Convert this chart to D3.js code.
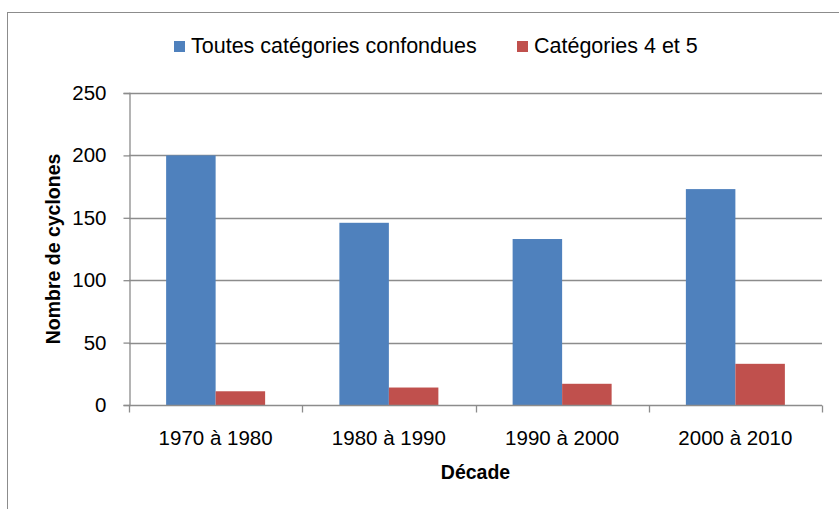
<!DOCTYPE html>
<html lang="fr">
<head>
    <meta charset="UTF-8">
    <title>Nombre de cyclones par décade</title>
    <script src="https://cdn.jsdelivr.net/npm/d3@7"></script>
    <style>
        body { margin: 0; background: #fff; }
        svg text { font-family: "Liberation Sans", Arial, sans-serif; fill: #000; }
    </style>
</head>
<body>
    <div id="chart"></div>
    <script>
        // ---- data ----
        const decades = ["1970 à 1980", "1980 à 1990", "1990 à 2000", "2000 à 2010"];
        const seriesNames = ["Toutes catégories confondues", "Catégories 4 et 5"];
        const toutes = [200, 146, 133, 173];
        const cat45 = [11, 14, 17, 33];
        const yTicks = [0, 50, 100, 150, 200, 250];
        const colors = ["#4F81BD", "#C0504D"];

        const width = 839, height = 509;
        const margin = { top: 93, right: 17, bottom: 104, left: 129 };

        const svg = d3.select("#chart").append("svg")
            .attr("width", width)
            .attr("height", height);

        // chart frame (cut off on the right and bottom like the source)
        svg.append("rect")
            .attr("x", 7.5).attr("y", 12.5)
            .attr("width", width).attr("height", height)
            .attr("fill", "none").attr("stroke", "#8c8c8c");

        const x0 = d3.scaleBand()
            .domain(decades)
            .range([margin.left, width - margin.right])
            .padding(0);

        const x1 = d3.scaleBand()
            .domain(seriesNames)
            .range([0, x0.bandwidth()])
            .paddingInner(0)
            .paddingOuter(0.75);

        const y = d3.scaleLinear()
            .domain([0, 250])
            .range([height - margin.bottom, margin.top]);

        // gridlines
        svg.append("g")
            .selectAll("line")
            .data(yTicks.filter(d => d > 0))
            .enter().append("line")
            .attr("x1", margin.left).attr("x2", width - margin.right)
            .attr("y1", d => Math.round(y(d)) + 0.5).attr("y2", d => Math.round(y(d)) + 0.5)
            .attr("stroke", "#8c8c8c").attr("stroke-width", 1.3);

        // bars
        const rows = decades.map((d, i) => ({ decade: d, values: [toutes[i], cat45[i]] }));
        const groups = svg.append("g")
            .selectAll("g")
            .data(rows)
            .enter().append("g")
            .attr("transform", d => `translate(${x0(d.decade)},0)`);

        groups.selectAll("rect")
            .data(d => d.values.map((v, j) => ({ key: seriesNames[j], value: v, j })))
            .enter().append("rect")
            .attr("x", d => x1(d.key))
            .attr("width", x1.bandwidth())
            .attr("y", d => y(d.value))
            .attr("height", d => y(0) - y(d.value))
            .attr("fill", d => colors[d.j]);

        // y axis
        const yAxis = svg.append("g")
            .attr("transform", `translate(${margin.left + 0.5},0)`)
            .call(d3.axisLeft(y).tickValues(yTicks).tickSize(6).tickPadding(17));
        yAxis.select(".domain").attr("stroke", "#8c8c8c").attr("stroke-width", 1.3);
        yAxis.selectAll(".tick line").attr("stroke", "#8c8c8c").attr("stroke-width", 1.3);
        yAxis.selectAll(".tick text").attr("font-size", 20.5).attr("font-family", "Liberation Sans, Arial, sans-serif");

        // x axis with ticks between categories
        const xAxisY = Math.round(y(0)) + 0.5;
        svg.append("line")
            .attr("x1", margin.left).attr("x2", width - margin.right)
            .attr("y1", xAxisY).attr("y2", xAxisY)
            .attr("stroke", "#8c8c8c").attr("stroke-width", 1.3);
        const bounds = decades.map(d => x0(d)).concat([x0(decades[decades.length - 1]) + x0.bandwidth()]);
        svg.append("g")
            .selectAll("line")
            .data(bounds)
            .enter().append("line")
            .attr("x1", d => Math.round(d) + 0.5).attr("x2", d => Math.round(d) + 0.5)
            .attr("y1", xAxisY).attr("y2", xAxisY + 7)
            .attr("stroke", "#8c8c8c").attr("stroke-width", 1.3);
        svg.append("g")
            .selectAll("text")
            .data(decades)
            .enter().append("text")
            .attr("x", d => x0(d) + x0.bandwidth() / 2)
            .attr("y", 445)
            .attr("text-anchor", "middle")
            .attr("font-size", 20.5)
            .text(d => d);

        // axis titles
        svg.append("text")
            .attr("x", (margin.left + width - margin.right) / 2)
            .attr("y", 479)
            .attr("text-anchor", "middle")
            .attr("font-size", 19.5)
            .attr("font-weight", "bold")
            .text("Décade");

        svg.append("text")
            .attr("transform", `translate(60,${y(125)}) rotate(-90)`)
            .attr("text-anchor", "middle")
            .attr("font-size", 19.5)
            .attr("font-weight", "bold")
            .text("Nombre de cyclones");

        // legend
        const legendX = [174, 517];
        const legend = svg.append("g")
            .selectAll("g")
            .data(seriesNames)
            .enter().append("g")
            .attr("transform", (d, i) => `translate(${legendX[i]},41)`);
        legend.append("rect")
            .attr("width", 11).attr("height", 11)
            .attr("fill", (d, i) => colors[i]);
        legend.append("text")
            .attr("x", 17).attr("y", 12)
            .attr("font-size", 21.5)
            .text(d => d);
    </script>
</body>
</html>
